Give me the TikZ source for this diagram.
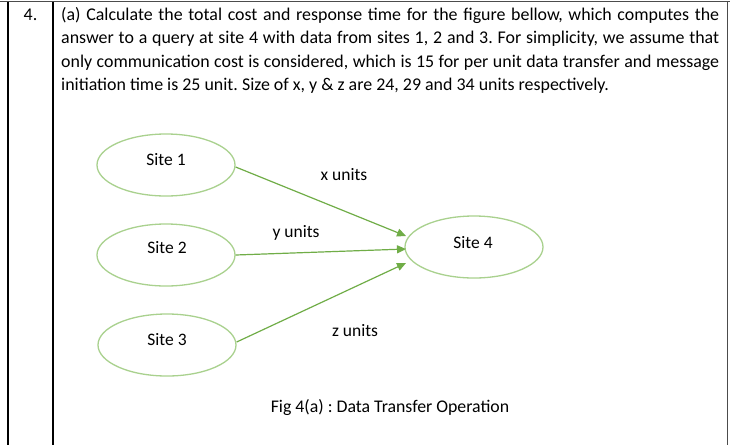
\documentclass[tikz,border=0pt]{standalone}
\usepackage{fontspec}
\setmainfont{Carlito}
\frenchspacing
\usetikzlibrary{arrows.meta,shapes.geometric}
\definecolor{elgreen}{HTML}{A9D18E}
\definecolor{argreen}{HTML}{70AD47}
\tikzset{
  site/.style={ellipse, draw=elgreen, line width=1.3pt, minimum width=138pt, minimum height=62pt, inner sep=0pt},
  flow/.style={draw=argreen, line width=1.2pt, -{Triangle[length=9pt,width=8pt]}},
  lbl/.style={font=\fontsize{17.5}{20}\selectfont, inner sep=0pt},
  qline/.style={anchor=base west, font=\fontsize{17.9}{23}\selectfont, inner sep=0pt},
  rule/.style={line width=1.3pt, draw=black}
}
\begin{document}
\begin{tikzpicture}[x=1pt,y=-1pt]
\useasboundingbox (0,0) rectangle (730,445);
\fill[white] (0,0) rectangle (730,445);
% table frame
\coordinate (tl) at (0,1.5);
\coordinate (tr) at (730,1.5);
\draw[rule, draw=black!70] (tl) -- (tr);
\coordinate (c1t) at (8,1.5); \coordinate (c1b) at (8,445);
\coordinate (c2t) at (53,1.5); \coordinate (c2b) at (53,445);
\coordinate (c3t) at (727.5,1.5); \coordinate (c3b) at (727.5,445);
\draw[rule] (c1t) -- (c1b);
\draw[rule] (c2t) -- (c2b);
\draw[rule, draw=black!70] (c3t) -- (c3b);
% number
\node[anchor=base, font=\fontsize{17.9}{23}\selectfont, inner sep=0pt] (num) at (30.5,20) {4.};
% question text
\node[qline] (q1) at (61,20) {\makebox[658pt][s]{(a) Calculate the total cost and response time for the figure bellow, which computes the}};
\node[qline] (q2) at (61,43.5) {\makebox[658pt][s]{answer to a query at site 4 with data from sites 1, 2 and 3. For simplicity, we assume that}};
\node[qline] (q3) at (61,67) {\makebox[658pt][s]{only communication cost is considered, which is 15 for per unit data transfer and message}};
\node[qline] (q4) at (61,90.5) {initiation time is 25 unit. Size of x, y \& z are 24, 29 and 34 units respectively.};
% sites
\node[site] (s1) at (166,165) {};
\node[site] (s2) at (166,255) {};
\node[site] (s3) at (167,345) {};
\node[site] (s4) at (474,247) {};
\node[lbl] (t1) at (166,160) {Site 1};
\node[lbl] (t2) at (167,248) {Site 2};
\node[lbl] (t3) at (167,340) {Site 3};
\node[lbl] (t4) at (473,243) {Site 4};
% arrow end points
\coordinate (e1) at (406,236);
\coordinate (e2) at (406,249);
\coordinate (e3) at (406,263);
\draw[flow] (s1.east |- 0,167) -- (e1);
\draw[flow] (s2.east) -- (e2);
\draw[flow] (s3.east |- 0,342) -- (e3);
\node[lbl] (xl) at (344,175) {x units};
\node[lbl] (yl) at (296,233) {y units};
\node[lbl] (zl) at (355,331) {z units};
\node[font=\fontsize{17.8}{20}\selectfont, inner sep=0pt] (cap) at (390,408) {Fig 4(a) : Data Transfer Operation};
\end{tikzpicture}
\end{document}
